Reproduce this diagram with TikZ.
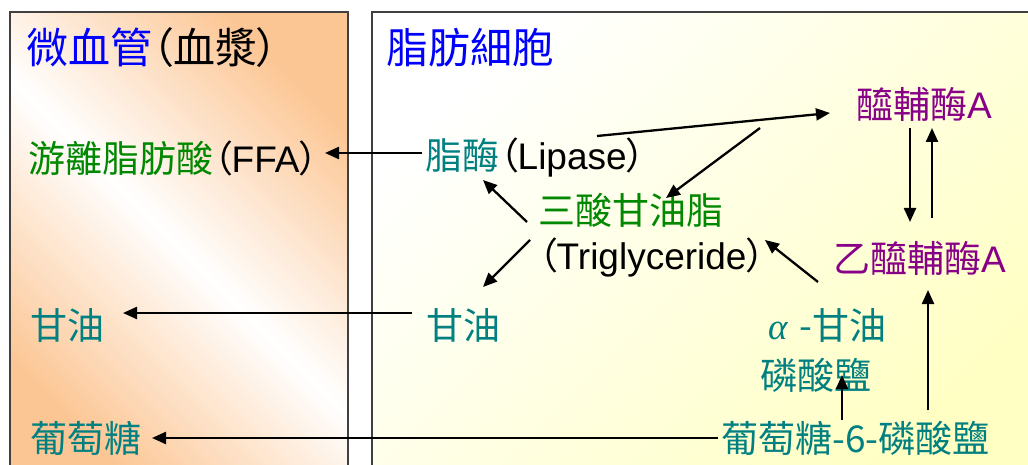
\documentclass[tikz,border=0pt]{standalone}
\usepackage{fontspec}
\setmainfont{Noto Sans CJK TC}
\newfontfamily\cjkp[RawFeature=+palt]{Noto Sans CJK TC}
\newfontfamily\lat{Liberation Sans}
\newfontfamily\grk{Liberation Serif}
\usetikzlibrary{arrows.meta}
\definecolor{tgreen}{RGB}{0,136,0}
\definecolor{tteal}{RGB}{0,128,128}
\definecolor{tpurple}{RGB}{136,0,136}
\definecolor{tblue}{RGB}{0,0,255}
\definecolor{borange}{RGB}{252,198,148}
\definecolor{byellow}{RGB}{255,255,196}
\newcommand\lpar{{\cjkp （}}
\newcommand\rpar{{\cjkp ）}}
\begin{document}
\begin{tikzpicture}[x=1pt,y=-1pt,
 lbl/.style={anchor=west,inner sep=0pt,font=\fontsize{37}{44}\selectfont},
 ttl/.style={anchor=west,inner sep=0pt,font=\fontsize{42}{50}\selectfont,text=tblue},
 arr/.style={line width=2.3pt,-{Triangle[length=14pt,width=12pt]}},
 box/.style={draw=black!75,line width=1.5pt}]
\useasboundingbox (0,0) rectangle (1028,465);
\begin{scope}
\clip (0,0) rectangle (1028,465);
\shade[top color=borange,bottom color=borange,middle color=white,shading angle=-45] (10,12) rectangle (348,480);
\draw[box] (10,12) rectangle (348,480);
\shade[top color=white,bottom color=byellow,shading angle=45] (372,12) rectangle (1040,480);
\draw[box] (372,12) rectangle (1040,480);
\end{scope}
% titles
\node[ttl] (t1) at (26,48) {微血管\textcolor{black}{\lpar 血漿\rpar}};
\node[ttl] (t2) at (386,48) {脂肪細胞};
% labels
\node[lbl,text=tgreen] (ffa) at (28,158) {游離脂肪酸\textcolor{black}{\lpar{\lat FFA}\rpar}};
\node[lbl,text=tteal] (lipase) at (425,158) {脂酶\textcolor{black}{\lpar{\lat Lipase}\rpar}};
\node[lbl,text=tpurple] (coa) at (856,104) {醯輔酶{\lat A}};
\node[lbl,text=tgreen] (tg) at (538,210) {三酸甘油脂};
\node[lbl] (tgE) at (538,258) {\lpar{\lat Triglyceride}\rpar};
\node[lbl,text=tpurple] (acoa) at (833,258) {乙醯輔酶{\lat A}};
\node[lbl,text=tteal] (gly1) at (30,325) {甘油};
\node[lbl,text=tteal] (gly2) at (426,325) {甘油};
\node[lbl,text=tteal] (agp1) at (768,325) {{\grk\itshape α}\hspace{12pt}-甘油};
\node[lbl,text=tteal] (agp2) at (760,375) {磷酸鹽};
\node[lbl,text=tteal] (glu1) at (30,438) {葡萄糖};
\node[lbl,text=tteal] (g6p) at (721,438) {葡萄糖-6-磷酸鹽};
% arrows
\draw[arr] ([shift={(-3,-5)}]lipase.west) -- ([shift={(297,-5)}]ffa.west);
\draw[arr] ([shift={(172,-22)}]lipase.west) -- ([shift={(-26,9)}]coa.west);
\draw[arr] ([shift={(-96,24)}]coa.west) -- ([shift={(128,-12)}]tg.west);
\draw[arr] ([shift={(54,24)}]coa.west) -- ([shift={(77,-36)}]acoa.west);
\draw[arr] ([shift={(99,-40)}]acoa.west) -- ([shift={(76,24)}]coa.west);
\draw[arr] ([shift={(-11,12)}]tg.west) -- ([shift={(58,22)}]lipase.west);
\draw[arr] ([shift={(-8,-18)}]tgE.west) -- ([shift={(57,-38)}]gly2.west);
\draw[arr] ([shift={(50,-43)}]agp1.west) -- ([shift={(227,-18)}]tgE.west);
\draw[arr] ([shift={(121,-18)}]g6p.west) -- ([shift={(82,0)}]agp2.west);
\draw[arr] ([shift={(207,-28)}]g6p.west) -- ([shift={(95,32)}]acoa.west);
\draw[arr] ([shift={(-14,-12)}]gly2.west) -- ([shift={(93,-12)}]gly1.west);
\draw[arr] ([shift={(-3,0)}]g6p.west) -- ([shift={(122,0)}]glu1.west);
\end{tikzpicture}
\end{document}
